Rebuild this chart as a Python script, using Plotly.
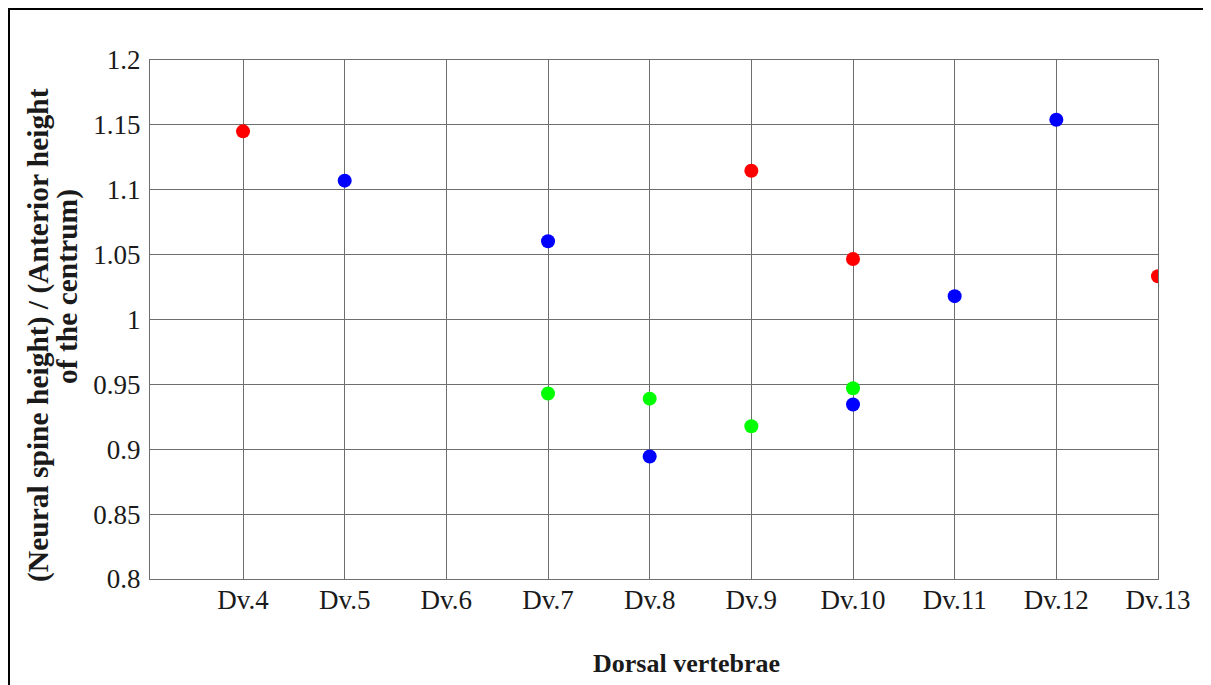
import plotly.graph_objects as go

categories = ["Dv.4", "Dv.5", "Dv.6", "Dv.7", "Dv.8", "Dv.9", "Dv.10", "Dv.11", "Dv.12", "Dv.13"]

red_x = ["Dv.4", "Dv.9", "Dv.10", "Dv.13"]
red_y = [1.145, 1.1146, 1.0466, 1.0333]

blue_x = ["Dv.5", "Dv.7", "Dv.8", "Dv.10", "Dv.11", "Dv.12"]
blue_y = [1.107, 1.0603, 0.8944, 0.9345, 1.018, 1.154]

green_x = ["Dv.7", "Dv.8", "Dv.9", "Dv.10"]
green_y = [0.943, 0.939, 0.9177, 0.947]

y_ticks = [0.8, 0.85, 0.9, 0.95, 1.0, 1.05, 1.1, 1.15, 1.2]
y_ticktext = ["0.8", "0.85", "0.9", "0.95", "1", "1.05", "1.1", "1.15", "1.2"]

# page body has an 8px margin; figure sized to fit the window
OFF = 8
W, H = 1211 - OFF, 685 - OFF
L, R, T, B = 150 - OFF, 53, 60 - OFF, 106
pw, ph = W - L - R, H - T - B

def px_x(p):  # screen pixel -> paper
    return (p - OFF - L) / pw

def px_y(p):
    return (H - B - (p - OFF)) / ph

FONT = "Liberation Serif, Times New Roman, serif"
GRID = "#6e6e6e"

fig = go.Figure()
for xs, ys, col, name in [(red_x, red_y, "#ff0000", "Series 1"),
                          (blue_x, blue_y, "#0000ff", "Series 2"),
                          (green_x, green_y, "#00ff00", "Series 3")]:
    fig.add_trace(go.Scatter(x=xs, y=ys, mode="markers", name=name,
                             marker=dict(color=col, size=14, line=dict(width=0))))

fig.update_layout(
    width=W, height=H,
    margin=dict(l=L, r=R, t=T, b=B),
    paper_bgcolor="white", plot_bgcolor="white",
    showlegend=False,
    font=dict(family=FONT, size=27, color="#1a1a1a"),
)
fig.update_xaxes(
    type="category", categoryorder="array", categoryarray=categories,
    range=[-0.915, 9],
    showgrid=True, gridcolor=GRID, gridwidth=1,
    showline=True, linecolor=GRID, linewidth=1, mirror=True,
    ticks="", ticklabelstandoff=-3,
    tickfont=dict(family=FONT, size=27, color="#1a1a1a"),
    zeroline=False,
)
fig.update_yaxes(
    range=[0.8, 1.2], tickmode="array", tickvals=y_ticks, ticktext=y_ticktext,
    showgrid=True, gridcolor=GRID, gridwidth=1,
    showline=True, linecolor=GRID, linewidth=1, mirror=True,
    ticks="", ticklabelstandoff=3,
    tickfont=dict(family=FONT, size=27, color="#1a1a1a"),
    zeroline=False,
)

title_font = dict(family=FONT, size=29.5, color="#1a1a1a")
fig.add_annotation(text="<b>(Neural spine height) / (Anterior height</b>", xref="paper", yref="paper",
                   x=px_x(39), y=px_y(335), textangle=-90, showarrow=False,
                   xanchor="center", yanchor="middle", font=title_font)
fig.add_annotation(text="<b>of the centrum)</b>", xref="paper", yref="paper",
                   x=px_x(67), y=px_y(287), textangle=-90, showarrow=False,
                   xanchor="center", yanchor="middle", font=title_font)
fig.add_annotation(text="<b>Dorsal vertebrae</b>", xref="paper", yref="paper",
                   x=px_x(686), y=px_y(663), showarrow=False,
                   xanchor="center", yanchor="middle",
                   font=dict(family=FONT, size=26, color="#1a1a1a"))

fig.add_shape(type="rect", xref="paper", yref="paper",
              x0=px_x(9), x1=px_x(1210), y0=px_y(690), y1=px_y(9),
              line=dict(color="black", width=2), fillcolor="rgba(0,0,0,0)", layer="above")

fig.write_html("out.html")
